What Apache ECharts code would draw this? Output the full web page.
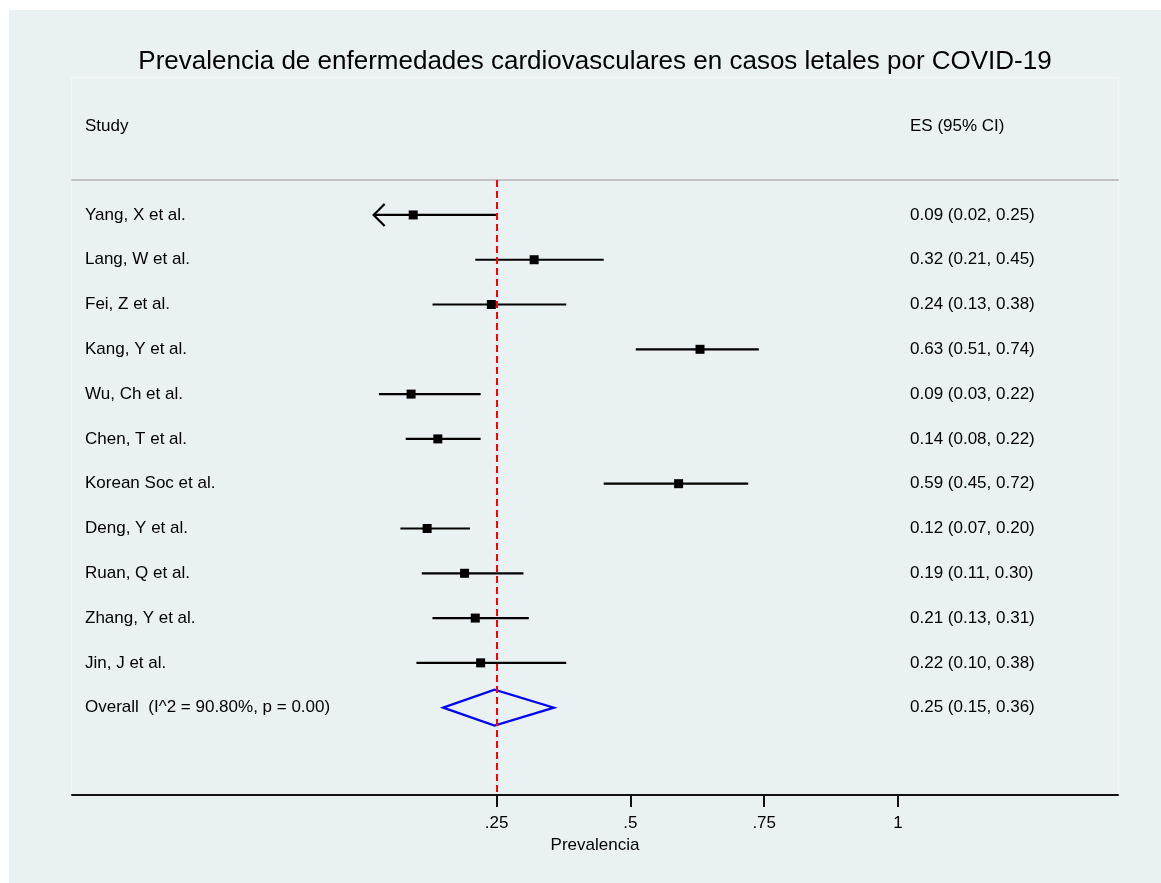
<!DOCTYPE html>
<html><head><meta charset="utf-8">
<script src="https://cdn.jsdelivr.net/npm/echarts@6/dist/echarts.min.js"></script>
<style>html,body{margin:0;padding:0;background:#fff}#c{width:1161px;height:883px}</style>
</head><body><div id="c"></div><script>
// ---- data ----
const studies = ['Yang, X et al.', 'Lang, W et al.', 'Fei, Z et al.', 'Kang, Y et al.', 'Wu, Ch et al.',
  'Chen, T et al.', 'Korean Soc et al.', 'Deng, Y et al.', 'Ruan, Q et al.', 'Zhang, Y et al.', 'Jin, J et al.'];
const esValues = [0.094, 0.32, 0.24, 0.63, 0.09, 0.14, 0.59, 0.12, 0.19, 0.21, 0.22];
const loValues = [0.02, 0.21, 0.13, 0.51, 0.03, 0.08, 0.45, 0.07, 0.11, 0.13, 0.10];
const hiValues = [0.25, 0.45, 0.38, 0.74, 0.22, 0.22, 0.72, 0.20, 0.30, 0.31, 0.38];
const truncatedLow = [true, false, false, false, false, false, false, false, false, false, false];
const overallLabel = 'Overall  (I^2 = 90.80%, p = 0.00)';
const overallES = 0.246, overallLo = 0.15, overallHi = 0.357;
const tickValues = [0.25, 0.5, 0.75, 1];
const titleText = 'Prevalencia de enfermedades cardiovasculares en casos letales por COVID-19';
const headerStudy = 'Study';
const headerES = 'ES (95% CI)';
const axisName = 'Prevalencia';

const FONT = '"Liberation Sans", Arial, Helvetica, sans-serif';
const BG = '#eaf1f3';
const FS = 17;

const rowLabels = studies.concat([overallLabel]);
const fmt = v => v.toFixed(2);
const data = studies.map((s, i) => [i, esValues[i], loValues[i], hiValues[i], 0, truncatedLow[i] ? 1 : 0]);
data.push([studies.length, overallES, overallLo, overallHi, 1, 0]);

function renderItem(params, api) {
  const i = api.value(0), e = api.value(1), l = api.value(2), h = api.value(3);
  const isOverall = api.value(4) === 1, trunc = api.value(5) === 1;
  const pE = api.coord([e, i]), pL = api.coord([l, i]), pH = api.coord([h, i]);
  const txtStyle = { fill: '#000', fontSize: FS, fontFamily: FONT, verticalAlign: 'middle', align: 'left' };
  const children = [
    { type: 'text', style: Object.assign({ x: 85, y: pE[1], text: rowLabels[params.dataIndex] }, txtStyle) },
    { type: 'text', style: Object.assign({ x: 910, y: pE[1], text: fmt(e) + ' (' + fmt(l) + ', ' + fmt(h) + ')' }, txtStyle) }
  ];
  if (isOverall) {
    children.push({ type: 'polygon', shape: { points: [pL, [pE[0], pE[1] - 18], pH, [pE[0], pE[1] + 18]] },
      style: { fill: 'none', stroke: '#0000ff', lineWidth: 2.2 } });
  } else {
    children.push({ type: 'line', shape: { x1: pL[0], y1: pL[1], x2: pH[0], y2: pH[1] },
      style: { stroke: '#000', lineWidth: 2.2 } });
    if (trunc) children.push({ type: 'polyline', shape: { points: [[pL[0] + 11, pL[1] - 11], pL, [pL[0] + 11, pL[1] + 11]] },
      style: { stroke: '#000', lineWidth: 2.2, fill: 'none' } });
    children.push({ type: 'rect', shape: { x: pE[0] - 4.5, y: pE[1] - 4.5, width: 9, height: 9 }, style: { fill: '#000' } });
  }
  return { type: 'group', children };
}

const xMin = -0.5437, xMax = 1.4112;
const chart = echarts.init(document.getElementById('c'), null, { renderer: 'canvas' });
chart.setOption({
  backgroundColor: '#fff',
  animation: false,
  grid: { left: 72, right: 43, top: 180, bottom: 88, containLabel: false },
  xAxis: [{
    type: 'value', position: 'bottom', min: xMin, max: xMax,
    splitLine: { show: false },
    axisLine: { show: true, onZero: false, lineStyle: { color: '#111', width: 2 } },
    axisTick: { show: true, length: 12, customValues: tickValues, lineStyle: { color: '#111', width: 2 } },
    axisLabel: { show: true, customValues: tickValues, margin: 20, color: '#000', fontSize: FS, fontFamily: FONT,
      formatter: v => String(v).replace(/^0\./, '.') },
    name: axisName, nameLocation: 'middle', nameGap: 38,
    nameTextStyle: { color: '#000', fontSize: FS, fontFamily: FONT }
  }, {
    type: 'value', position: 'top', min: xMin, max: xMax,
    splitLine: { show: false }, axisTick: { show: false }, axisLabel: { show: false },
    axisLine: { show: true, onZero: false, lineStyle: { color: '#c2c2c2', width: 2 } }
  }],
  yAxis: { type: 'value', min: -0.78, max: 12.95, inverse: true, show: false },
  graphic: [
    { type: 'rect', z: -100, shape: { x: 9, y: 10, width: 1152, height: 873 }, style: { fill: BG } },
    { type: 'rect', z: -90, shape: { x: 71.5, y: 77.5, width: 1047, height: 718 }, style: { fill: 'none', stroke: '#f1f6f7', lineWidth: 1 } },
    { type: 'text', style: { x: 595, y: 62, text: titleText, fill: '#000', fontSize: 26, fontFamily: FONT, align: 'center', verticalAlign: 'middle' } },
    { type: 'text', style: { x: 85, y: 126, text: headerStudy, fill: '#000', fontSize: FS, fontFamily: FONT, verticalAlign: 'middle' } },
    { type: 'text', style: { x: 910, y: 126, text: headerES, fill: '#000', fontSize: FS, fontFamily: FONT, verticalAlign: 'middle' } }
  ],
  series: [{
    type: 'custom', renderItem, data, clip: false,
    encode: { x: [1, 2, 3], y: 0 },
    markLine: {
      symbol: 'none', silent: true, label: { show: false },
      lineStyle: { color: '#ff0000', type: [7, 4], width: 2 },
      data: [{ xAxis: overallES }]
    }
  }]
});
</script></body></html>
